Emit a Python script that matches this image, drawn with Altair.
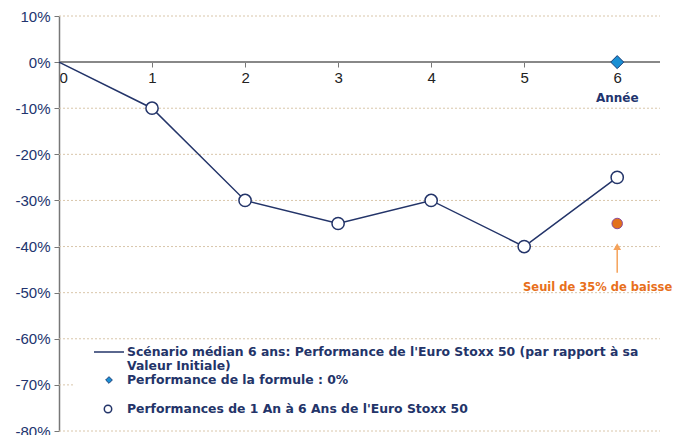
import altair as alt
import pandas as pd

years = [0, 1, 2, 3, 4, 5, 6]
median = [0, -10, -30, -35, -30, -40, -25]
formula_x = [6]
formula_y = [0]
seuil_x = [6]
seuil_y = [-35]
y_ticks = [10, 0, -10, -20, -30, -40, -50, -60, -70, -80]
x_ticks = [0, 1, 2, 3, 4, 5, 6]

NAVY = "#233469"
LBLUE = "#22346e"
W, H = 601, 415
xs = alt.Scale(domain=[0, 6.46], nice=False, zero=False)
ys = alt.Scale(domain=[-80, 10], nice=False)

line_df = pd.DataFrame({"x": years, "y": median})
circ_df = line_df[line_df.x > 0]

yaxis = alt.Chart(pd.DataFrame({"y": y_ticks})).mark_point(opacity=0).encode(
    y=alt.Y("y:Q", scale=ys, axis=alt.Axis(values=y_ticks, labelExpr="datum.value + '%'",
        labelColor=LBLUE, labelFontSize=15, labelFont="Liberation Sans", tickSize=5,
        tickColor="#777", domainColor="#777", domainWidth=1.5, title=None, grid=False,
        labelPadding=4)),
)

grid = alt.Chart(pd.DataFrame({"y": [v for v in y_ticks if v != 0]})).mark_rule(
    color="#d9c6aa", strokeDash=[2, 2], strokeWidth=1
).encode(y=alt.Y("y:Q", scale=ys), x=alt.value(0), x2=alt.value(W))

legend_bg = alt.Chart(pd.DataFrame({"a": [0]})).mark_rect(color="white").encode(
    x=alt.value(14), x2=alt.value(W), y=alt.value(327), y2=alt.value(412))

zero = alt.Chart(pd.DataFrame({"y": [0]})).mark_rule(color="#888", strokeWidth=2).encode(
    y=alt.Y("y:Q", scale=ys), x=alt.value(0), x2=alt.value(W))

xaxis = alt.Chart(pd.DataFrame({"x": x_ticks})).mark_point(opacity=0).encode(
    x=alt.X("x:Q", scale=xs, axis=alt.Axis(values=x_ticks, offset=-369, domain=False,
        format="d", tickSize=5, tickColor="#777", labelColor="#222", labelFontSize=15,
        labelFont="Liberation Sans", title=None, grid=False, labelPadding=3)),
)

line = alt.Chart(line_df).mark_line(color=NAVY, strokeWidth=1.5).encode(
    x=alt.X("x:Q", scale=xs), y=alt.Y("y:Q", scale=ys))
circles = alt.Chart(circ_df).mark_point(shape="circle", size=150, filled=True, fill="white",
    stroke=NAVY, strokeWidth=1.5, opacity=1).encode(
    x=alt.X("x:Q", scale=xs), y=alt.Y("y:Q", scale=ys))

diamond = alt.Chart(pd.DataFrame({"x": formula_x, "y": formula_y})).mark_point(
    shape="diamond", size=170, filled=True, fill="#1a8fd4", stroke="#1d3f78", strokeWidth=1,
    opacity=1).encode(x=alt.X("x:Q", scale=xs), y=alt.Y("y:Q", scale=ys))

seuil = alt.Chart(pd.DataFrame({"x": seuil_x, "y": seuil_y})).mark_point(
    shape="circle", size=110, filled=True, fill="#e2701c", stroke="#8a4a9a", strokeWidth=1,
    opacity=1).encode(x=alt.X("x:Q", scale=xs), y=alt.Y("y:Q", scale=ys))

arrow_df = pd.DataFrame({"x": [6], "y1": [-40.0], "y2": [-45.7]})
arrow_shaft = alt.Chart(arrow_df).mark_rule(color="#f5a25a", strokeWidth=1.5).encode(
    x=alt.X("x:Q", scale=xs), y=alt.Y("y1:Q", scale=ys), y2="y2:Q")
arrow_head = alt.Chart(arrow_df).mark_point(shape="triangle-up", size=60, filled=True,
    color="#f5a25a", opacity=1).encode(x=alt.X("x:Q", scale=xs), y=alt.Y("y1:Q", scale=ys))

seuil_txt = alt.Chart(pd.DataFrame({"x": [5.79], "y": [-48.9], "t": ["Seuil de 35% de baisse"]})).mark_text(
    color="#e8701c", fontWeight="bold", fontSize=11.5, font="DejaVu Sans").encode(
    x=alt.X("x:Q", scale=xs), y=alt.Y("y:Q", scale=ys), text="t:N")

annee = alt.Chart(pd.DataFrame({"x": [6], "y": [-7.7], "t": ["Année"]})).mark_text(
    color=LBLUE, fontWeight="bold", fontSize=12, font="DejaVu Sans").encode(
    x=alt.X("x:Q", scale=xs), y=alt.Y("y:Q", scale=ys), text="t:N")

# legend
leg_line = alt.Chart(pd.DataFrame({"a": [0]})).mark_rule(color=NAVY, strokeWidth=1.5).encode(
    x=alt.value(35), x2=alt.value(65), y=alt.value(336))
leg_diamond = alt.Chart(pd.DataFrame({"a": [0]})).mark_point(shape="diamond", size=45,
    filled=True, fill="#1a8fd4", stroke="#1d3f78", strokeWidth=1, opacity=1).encode(
    x=alt.value(50), y=alt.value(364))
leg_circle = alt.Chart(pd.DataFrame({"a": [0]})).mark_point(shape="circle", size=55,
    filled=True, fill="white", stroke=NAVY, strokeWidth=1.5, opacity=1).encode(
    x=alt.value(49), y=alt.value(393))
leg_text = alt.Chart(pd.DataFrame({
    "px": [68, 68, 68, 68],
    "py": [336, 350, 364, 393],
    "t": ["Scénario médian 6 ans: Performance de l'Euro Stoxx 50 (par rapport à sa",
          "Valeur Initiale)",
          "Performance de la formule : 0%",
          "Performances de 1 An à 6 Ans de l'Euro Stoxx 50"]})).mark_text(
    align="left", baseline="middle", color=NAVY, fontWeight="bold", fontSize=12.4,
    font="DejaVu Sans").encode(x=alt.X("px:Q", scale=None), y=alt.Y("py:Q", scale=None), text="t:N")

chart = alt.layer(yaxis, grid, legend_bg, zero, xaxis, line, circles, diamond, seuil,
                  arrow_shaft, arrow_head, seuil_txt, annee,
                  leg_line, leg_diamond, leg_circle, leg_text).properties(
    width=W, height=H, autosize=alt.AutoSizeParams(type="none"),
    padding={"left": 51, "top": 8, "right": 13, "bottom": 4}
).configure_view(stroke=None)

chart.save("out.html", embed_options={"renderer": "svg", "actions": False})
